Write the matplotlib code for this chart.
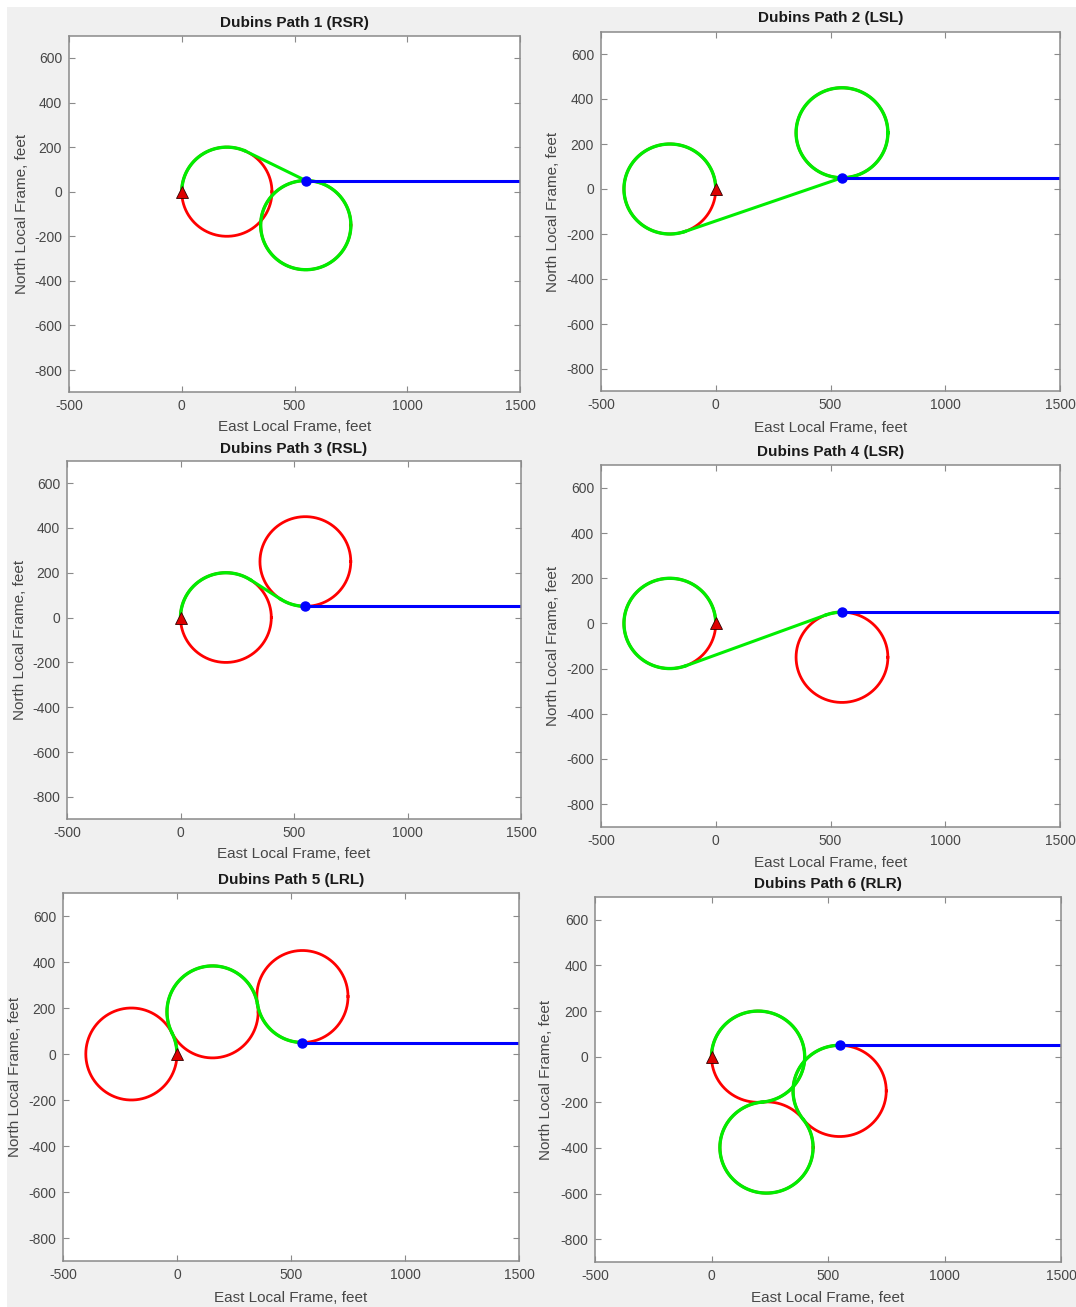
import numpy as np
import matplotlib
matplotlib.use('Agg')
import matplotlib.pyplot as plt
from matplotlib.patches import Rectangle

plt.rcParams['font.family'] = ['Liberation Sans', 'DejaVu Sans']
plt.rcParams['axes.unicode_minus'] = False

# ---- data ----
titles = ['Dubins Path 1 (RSR)', 'Dubins Path 2 (LSL)', 'Dubins Path 3 (RSL)',
          'Dubins Path 4 (LSR)', 'Dubins Path 5 (LRL)', 'Dubins Path 6 (RLR)']
turn_radius = 200
start_x, start_y = 0, 0
goal_x, goal_y = 550, 50
exit_x = 1500

# turn circles (drawn red)
circle_x = [[200, 550], [-200, 550], [200, 550], [-200, 550], [-200, 156, 550], [200, 236, 550]]
circle_y = [[0, -150], [0, 250], [0, 250], [0, -150], [0, 183, 250], [0, -398, -150]]

# flown arcs (green): centre, from angle, to angle (deg, counter-clockwise)
arc_cx = [[200, 550], [-200, 550], [200, 550], [-200, 550], [-200, 156, 550], [200, 236, 550]]
arc_cy = [[0, -150], [0, 250], [0, 250], [0, -150], [0, 183, 250], [0, -398, -150]]
arc_from = [[67, 90], [0, 0], [57, 237], [0, 90], [0, 10, 190], [-85, 95, 90]]
arc_to = [[180, 445], [289, 360], [180, 270], [290, 110], [27, 207, 270], [180, 398, 218]]

# straight legs (green)
leg_x0 = [[279], [-137], [309], [-131], [], []]
leg_y0 = [[184], [-190], [168], [-188], [], []]
leg_x1 = [[550], [550], [441], [481], [], []]
leg_y1 = [[50], [50], [82], [38], [], []]

xticks = [-500, 0, 500, 1000, 1500]
yticks = [-800, -600, -400, -200, 0, 200, 400, 600]

# ---- layout (pixels: left, right, top, bottom) ----
W, H = 1076, 1307
boxes = [(69, 520, 35.7, 392.3), (601, 1060, 31.5, 391.5),
         (67, 521, 460.6, 819.4), (601, 1060, 465.4, 826.6),
         (63, 519, 893, 1261), (595, 1061, 897, 1262)]
title_y = [23, 18, 449, 452, 880, 884]
xlab_y = [427, 428, 854, 863, 1298, 1298]
ylab_x = [22, 553, 20, 553, 15, 546]

fig = plt.figure(figsize=(W / 100, H / 100), dpi=100)
fig.patch.set_facecolor('white')
fig.patches.append(Rectangle((7 / W, 0), 1, 1 - 7 / H, transform=fig.transFigure,
                             facecolor='#f0f0f0', edgecolor='none', zorder=-10))

tick_col = '#474747'
spine_col = '#8a8a8a'
green = '#00ee00'

for i in range(6):
    l, r, t, b = boxes[i]
    wpx, hpx = r - l, b - t
    ax = fig.add_axes([l / W, 1 - b / H, wpx / W, hpx / H])
    ax.set_facecolor('white')

    for cx, cy in zip(circle_x[i], circle_y[i]):
        a = np.radians(np.linspace(0, 360, 361))
        ax.plot(cx + turn_radius * np.cos(a), cy + turn_radius * np.sin(a), color='red', lw=2)

    for cx, cy, a0, a1 in zip(arc_cx[i], arc_cy[i], arc_from[i], arc_to[i]):
        a = np.radians(np.linspace(a0, a1, 300))
        ax.plot(cx + turn_radius * np.cos(a), cy + turn_radius * np.sin(a), color=green, lw=2.4)

    for x0, y0, x1, y1 in zip(leg_x0[i], leg_y0[i], leg_x1[i], leg_y1[i]):
        ax.plot([x0, x1], [y0, y1], color=green, lw=2.2)

    ax.plot([goal_x, exit_x], [goal_y, goal_y], color='blue', lw=2.2)
    ax.plot(goal_x, goal_y, 'o', color='blue', ms=6.5)
    ax.plot(start_x, start_y, '^', color='#dd0000', mec='#300000', mew=0.6, ms=8)

    ax.set_xlim(-500, 1500)
    ax.set_ylim(-900, 700)
    ax.set_xticks(xticks)
    ax.set_yticks(yticks)
    ax.tick_params(direction='in', length=4, width=0.8, color=spine_col,
                   labelcolor=tick_col, labelsize=10, top=True, right=True, pad=5)
    for s in ax.spines.values():
        s.set_color(spine_col)
        s.set_linewidth(1.1)

    ax.set_title(titles[i], fontsize=11, fontweight='bold', color='#1a1a1a',
                 y=1 + (t - title_y[i]) / hpx, va='center', pad=0)
    ax.set_xlabel('East Local Frame, feet', fontsize=11, color=tick_col, va='center')
    ax.xaxis.set_label_coords(0.5, -(xlab_y[i] - b) / hpx)
    ax.set_ylabel('North Local Frame, feet', fontsize=11, color=tick_col, va='center')
    ax.yaxis.set_label_coords(-(l - ylab_x[i]) / wpx, 0.5)

fig.savefig('out.png', dpi=100)
